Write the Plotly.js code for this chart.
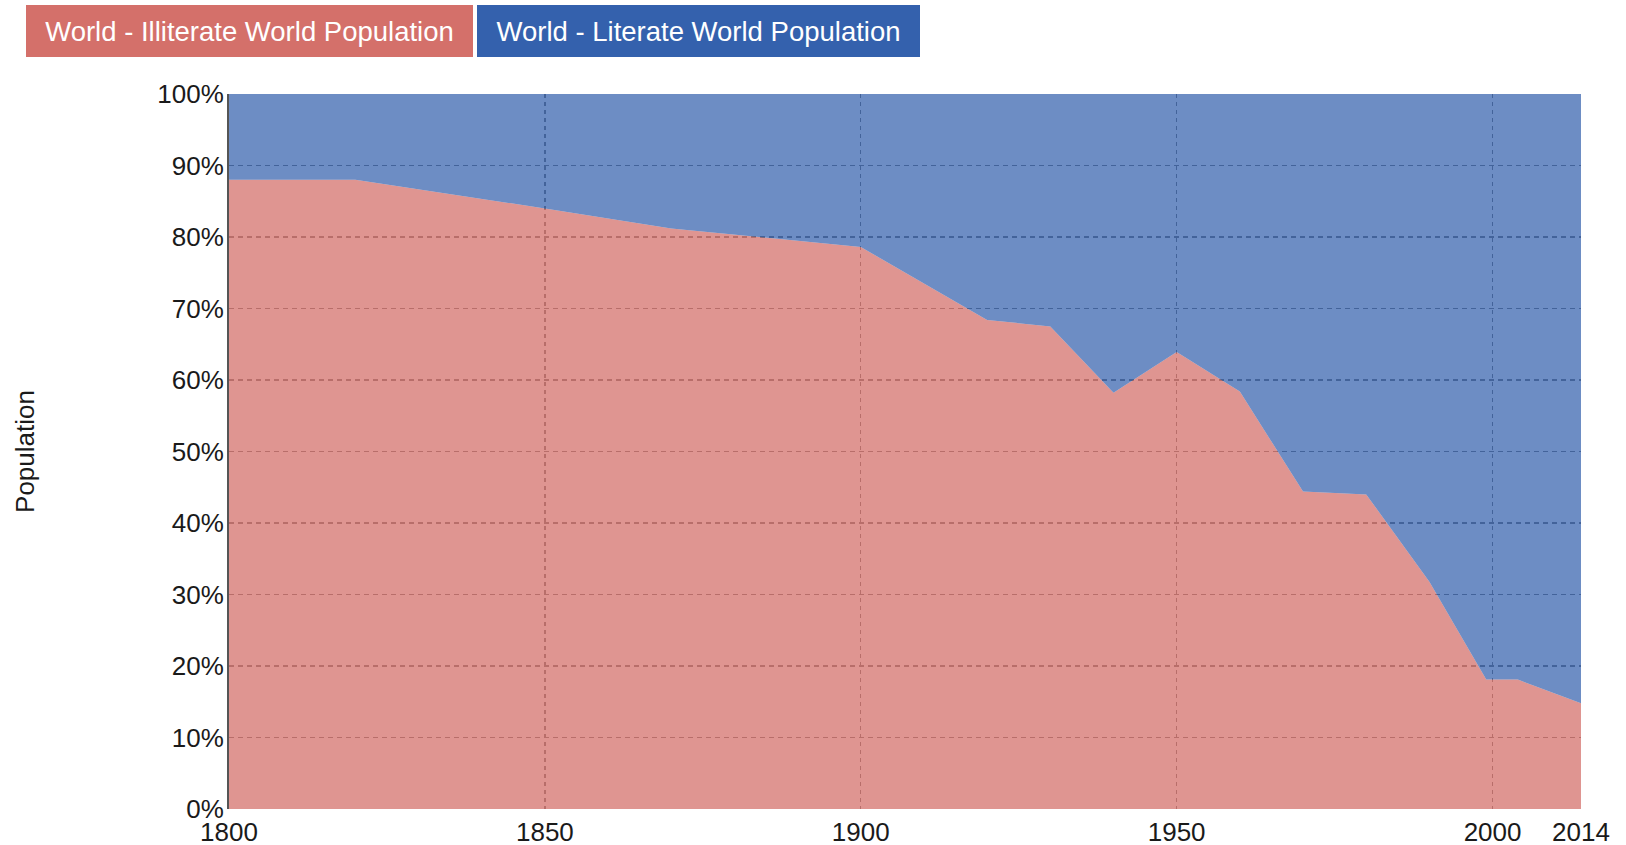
<!DOCTYPE html>
<html>
<head>
<meta charset="utf-8">
<script src="https://cdn.plot.ly/plotly-3.0.1.min.js"></script>
<style>
html, body { margin: 0; padding: 0; background: #ffffff; }
#chart { width: 1626px; height: 845px; }
</style>
</head>
<body>
<div id="chart"></div>
<script>
// Data
var years = [1800, 1820, 1850, 1870, 1900, 1920, 1930, 1940, 1950, 1960, 1970, 1980, 1990, 1999, 2004, 2014];
var illiterate = [88, 88, 84, 81.2, 78.6, 68.4, 67.5, 58.2, 63.9, 58.4, 44.4, 44.0, 31.8, 18.1, 18.1, 14.8];
var literate = [12, 12, 16, 18.8, 21.4, 31.6, 32.5, 41.8, 36.1, 41.6, 55.6, 56.0, 68.2, 81.9, 81.9, 85.2];
var seriesNames = ["World - Illiterate World Population", "World - Literate World Population"];
var xTickVals = [1800, 1850, 1900, 1950, 2000, 2014];
var xTickText = ["1800", "1850", "1900", "1950", "2000", "2014"];
var xGridVals = [1850, 1900, 1950, 2000];
var yTickVals = [0, 10, 20, 30, 40, 50, 60, 70, 80, 90, 100];
var yTickText = ["0%", "10%", "20%", "30%", "40%", "50%", "60%", "70%", "80%", "90%", "100%"];

var FONT = "Liberation Sans, Arial, Helvetica, sans-serif";
var RED = "rgb(212,112,106)";
var BLUE = "rgb(52,97,173)";
var GRID = "#6a6a6a";

var traces = [
  {
    x: years, y: illiterate, name: seriesNames[0], type: "scatter", mode: "lines",
    stackgroup: "one", line: { width: 0, color: RED }, fillcolor: "rgba(212,112,106,0.74)"
  },
  {
    x: years, y: literate, name: seriesNames[1], type: "scatter", mode: "lines",
    stackgroup: "one", line: { width: 0, color: BLUE }, fillcolor: "rgba(52,97,173,0.72)"
  }
];

var L = 229, R = 45, T = 94, B = 36, W = 1626, H = 845;
var pw = W - L - R, ph = H - T - B;
function px2x(p) { return (p - L) / pw; }
function py2y(p) { return (H - B - p) / ph; }

var layout = {
  width: W, height: H,
  margin: { l: L, r: R, t: T, b: B, pad: 0 },
  paper_bgcolor: "#ffffff", plot_bgcolor: "#ffffff",
  showlegend: false,
  font: { family: FONT, color: "#1a1a1a", size: 26 },
  xaxis: {
    range: [1800, 2014], tickmode: "array", tickvals: xTickVals, ticktext: xTickText,
    showgrid: false, zeroline: false, showline: false,
    ticks: "", ticklabelstandoff: 5,
    tickfont: { family: FONT, size: 26, color: "#1a1a1a" },
    minor: { tickmode: "array", tickvals: xGridVals, showgrid: true, gridcolor: GRID, griddash: "4px,4px", gridwidth: 1.3, ticks: "" }
  },
  yaxis: {
    range: [0, 100], tickmode: "array", tickvals: yTickVals, ticktext: yTickText,
    showgrid: true, gridcolor: GRID, griddash: "5px,4px", gridwidth: 1.3,
    zeroline: false, showline: true, linecolor: "#555555", linewidth: 2,
    ticks: "", ticklabelstandoff: -2,
    tickfont: { family: FONT, size: 26, color: "#1a1a1a" },
    title: { text: "Population", font: { family: FONT, size: 26, color: "#1a1a1a" }, standoff: 115 }
  },
  annotations: [
    {
      xref: "paper", yref: "paper", x: px2x(26), y: py2y(5), xanchor: "left", yanchor: "top",
      text: seriesNames[0], showarrow: false, bgcolor: RED, borderpad: 0, borderwidth: 0,
      width: 447, height: 52, align: "center", valign: "middle",
      font: { family: FONT, size: 27.5, color: "#ffffff" }
    },
    {
      xref: "paper", yref: "paper", x: px2x(477), y: py2y(5), xanchor: "left", yanchor: "top",
      text: seriesNames[1], showarrow: false, bgcolor: BLUE, borderpad: 0, borderwidth: 0,
      width: 443, height: 52, align: "center", valign: "middle",
      font: { family: FONT, size: 27.5, color: "#ffffff" }
    }
  ]
};

Plotly.newPlot("chart", traces, layout, { staticPlot: true, displayModeBar: false });
</script>
</body>
</html>
